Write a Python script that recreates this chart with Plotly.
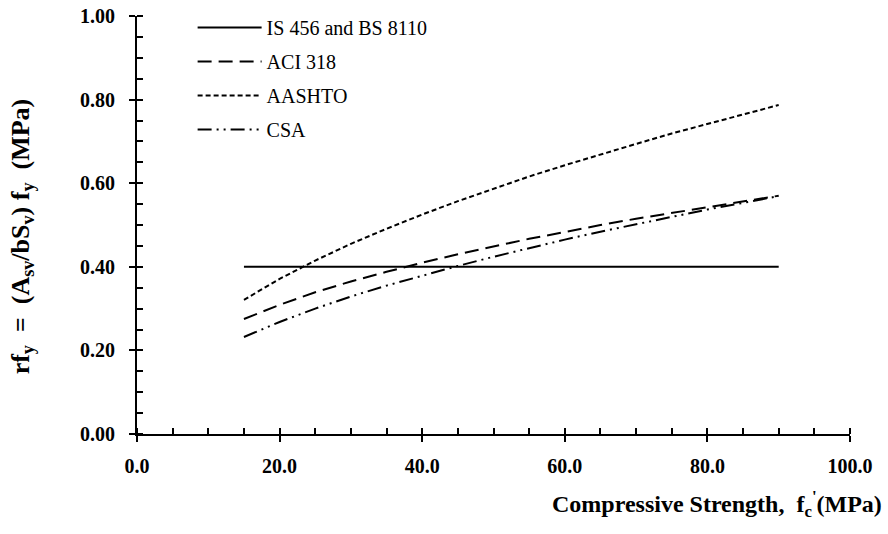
import plotly.graph_objects as go

fc = [15, 20, 25, 30, 35, 40, 45, 50, 55, 60, 65, 70, 75, 80, 85, 90]
is_bs = [0.40] * len(fc)
aci = [0.275, 0.309, 0.339, 0.365, 0.388, 0.410, 0.430, 0.449, 0.467, 0.483,
       0.500, 0.515, 0.529, 0.543, 0.557, 0.570]
aashto = [0.321, 0.371, 0.415, 0.455, 0.491, 0.525, 0.557, 0.587, 0.616, 0.643,
          0.669, 0.694, 0.719, 0.742, 0.765, 0.787]
csa = [0.232, 0.268, 0.300, 0.329, 0.355, 0.379, 0.402, 0.424, 0.445, 0.465,
       0.484, 0.502, 0.520, 0.537, 0.553, 0.569]

names = ["IS 456 and BS 8110", "ACI 318", "AASHTO", "CSA"]
series = [is_bs, aci, aashto, csa]
dashes = ["solid", "14px,7px", "5px,3px", "14px,5px,2px,5px,2px,5px"]

x_tickvals = [0, 20, 40, 60, 80, 100]
x_ticktext = ["0.0", "20.0", "40.0", "60.0", "80.0", "100.0"]
y_tickvals = [0, 0.2, 0.4, 0.6, 0.8, 1.0]
y_ticktext = ["0.00", "0.20", "0.40", "0.60", "0.80", "1.00"]

SERIF = "Liberation Serif"

fig = go.Figure()
for i, (n, s, d) in enumerate(zip(names, series, dashes)):
    fig.add_trace(go.Scatter(x=fc, y=s, mode="lines", name=n, legendgroup=f"g{i}",
                             line=dict(color="black", width=2, dash=d)))

# invisible helper trace so the overlaid tick axes are drawn
fig.add_trace(go.Scatter(x=fc, y=is_bs, mode="lines", xaxis="x2", yaxis="y2",
                         showlegend=False, hoverinfo="skip",
                         line=dict(color="rgba(0,0,0,0)", width=0)))

tickfont = dict(family=SERIF, size=20, color="black")

fig.update_layout(
    width=888, height=534,
    margin=dict(l=137, r=38, t=16, b=100, autoexpand=False),
    paper_bgcolor="white", plot_bgcolor="white",
    font=dict(family=SERIF, color="black", size=18),
    showlegend=True,
    legend=dict(x=0.078, y=1.019, xanchor="left", yanchor="top",
                bgcolor="rgba(0,0,0,0)", font=dict(family=SERIF, size=20, color="black"),
                tracegroupgap=5, itemwidth=64),
    xaxis=dict(range=[0, 100], tickvals=x_tickvals, ticktext=[f"<b>{t}</b>" for t in x_ticktext],
               showgrid=False, zeroline=False, showline=True, linecolor="black", linewidth=2,
               ticks="outside", ticklen=6, tickwidth=2, tickcolor="black", automargin=False,
               ticklabeloverflow="allow",
               minor=dict(dtick=5, ticks="inside", ticklen=6, tickwidth=2, tickcolor="black", showgrid=False),
               tickfont=tickfont, ticklabelstandoff=7),
    yaxis=dict(range=[0, 1], tickvals=y_tickvals, ticktext=[f"<b>{t}</b>" for t in y_ticktext],
               showgrid=False, zeroline=False, showline=True, linecolor="black", linewidth=2,
               ticks="outside", ticklen=6, tickwidth=2, tickcolor="black", automargin=False,
               ticklabeloverflow="allow",
               minor=dict(dtick=0.05, ticks="inside", ticklen=6, tickwidth=2, tickcolor="black", showgrid=False),
               tickfont=tickfont, ticklabelstandoff=10),
    xaxis2=dict(range=[0, 100], overlaying="x", anchor="y2", tickvals=x_tickvals,
                showticklabels=False, showgrid=False, zeroline=False, showline=False,
                ticks="inside", ticklen=6, tickwidth=2, tickcolor="black"),
    yaxis2=dict(range=[0, 1], overlaying="y", anchor="x2", tickvals=y_tickvals,
                showticklabels=False, showgrid=False, zeroline=False, showline=False,
                ticks="inside", ticklen=6, tickwidth=2, tickcolor="black"),
)

fig.add_annotation(text="<b>Compressive Strength,  f<sub>c</sub><sup>'</sup>(MPa)</b>",
                   xref="paper", yref="paper", x=1.047, y=-0.168, xanchor="right", yanchor="middle",
                   showarrow=False, font=dict(family=SERIF, size=24, color="black"))
fig.add_annotation(text="<b>rf<sub>y</sub>  =  (A<sub>sv</sub>/bS<sub>v</sub>) f<sub>y</sub>  (MPa)</b>",
                   xref="paper", yref="paper", x=-0.162, y=0.474, xanchor="center", yanchor="middle",
                   textangle=-90, showarrow=False,
                   font=dict(family=SERIF, size=26, color="black"))

fig.write_html("out.html", config={"displayModeBar": False},
               post_script="document.body.style.margin='0';")
